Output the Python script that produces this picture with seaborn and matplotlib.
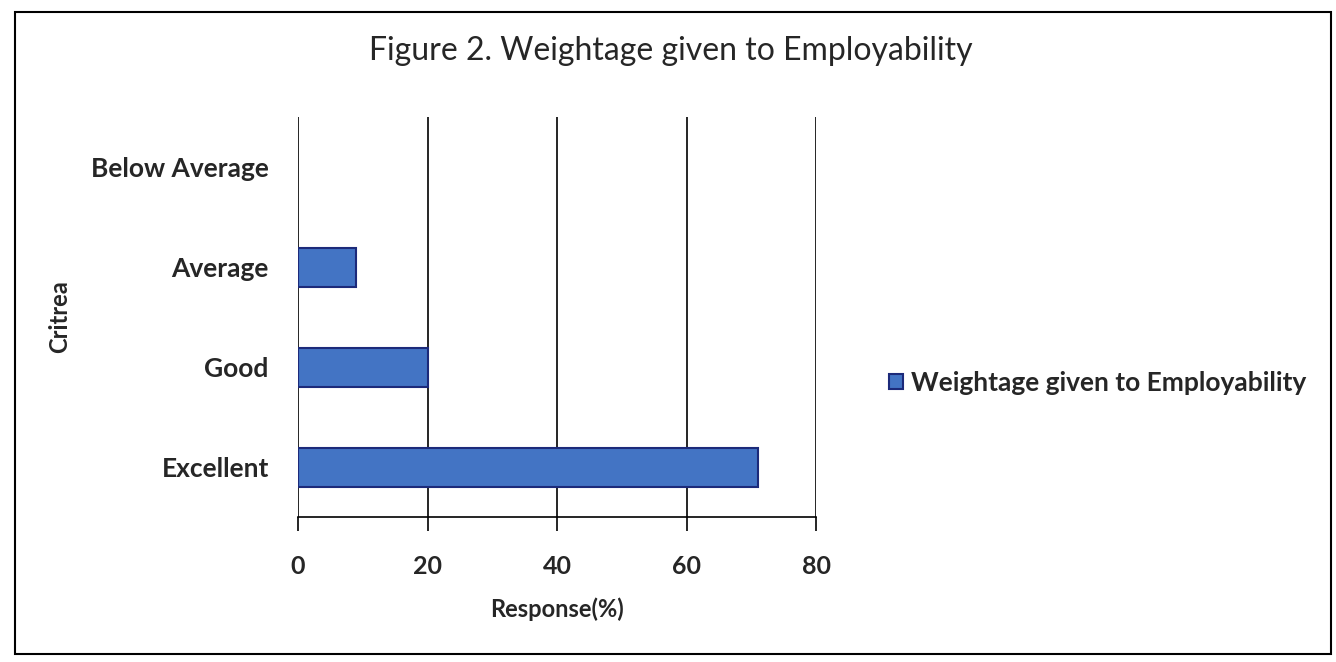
import numpy as np
import pandas as pd
import seaborn as sns
import matplotlib.pyplot as plt
from matplotlib.patches import Rectangle, Patch

categories = ['Below Average', 'Average', 'Good', 'Excellent']
response = [0, 9, 20, 71]
series_name = 'Weightage given to Employability'
xticks = [0, 20, 40, 60, 80]

df = pd.DataFrame({'critrea': categories, 'response': response})

bar_color = '#4374c4'
edge_color = '#1c2a7a'

sns.set_theme(style='white')
plt.rcParams['font.family'] = ['Lato', 'DejaVu Sans']

fig = plt.figure(figsize=(13.36, 6.62), dpi=100)
ax = fig.add_axes([0.223, 0.219, 0.388, 0.604])

sns.barplot(data=df, x='response', y='critrea', orient='h', order=categories,
            color=bar_color, edgecolor=edge_color, linewidth=1.5, width=0.39,
            saturation=1, ax=ax)
# a zero bar leaves no mark in the original
for p in ax.patches:
    if p.get_width() == 0:
        p.set_visible(False)

ax.set_xlim(0, 80)
ax.set_xticks(xticks)
ax.xaxis.grid(True, color='black', linewidth=1.2)
ax.set_axisbelow(True)
for s in ['top', 'right', 'left']:
    ax.spines[s].set_visible(False)
ax.spines['bottom'].set_color('black')
ax.spines['bottom'].set_linewidth(1.2)
ax.tick_params(axis='x', bottom=True, length=10, width=1.2, color='black',
               labelsize=18, pad=17)
ax.tick_params(axis='y', left=False, labelsize=19, pad=15)
for lab in ax.get_yticklabels() + ax.get_xticklabels():
    lab.set_fontweight('bold')

ax.set_xlabel('Response(%)', fontsize=17, fontweight='bold', labelpad=14)
ax.set_ylabel('Critrea', fontsize=17, fontweight='bold', labelpad=14)

fig.suptitle('Figure 2. Weightage given to Employability', fontsize=23,
             x=0.502, y=0.945)

handle = Patch(facecolor=bar_color, edgecolor=edge_color, linewidth=1.5)
ax.legend([handle], [series_name], loc='center left', bbox_to_anchor=(0.648, 0.422),
          bbox_transform=fig.transFigure, frameon=False, fontsize=19,
          handlelength=0.5, handleheight=0.5, handletextpad=0.3)
for t in ax.get_legend().get_texts():
    t.set_fontweight('bold')

fig.patches.append(Rectangle((0.011, 0.012), 0.985, 0.97, transform=fig.transFigure,
                             fill=False, edgecolor='black', linewidth=1.5))

fig.savefig('out.png', dpi=100)
